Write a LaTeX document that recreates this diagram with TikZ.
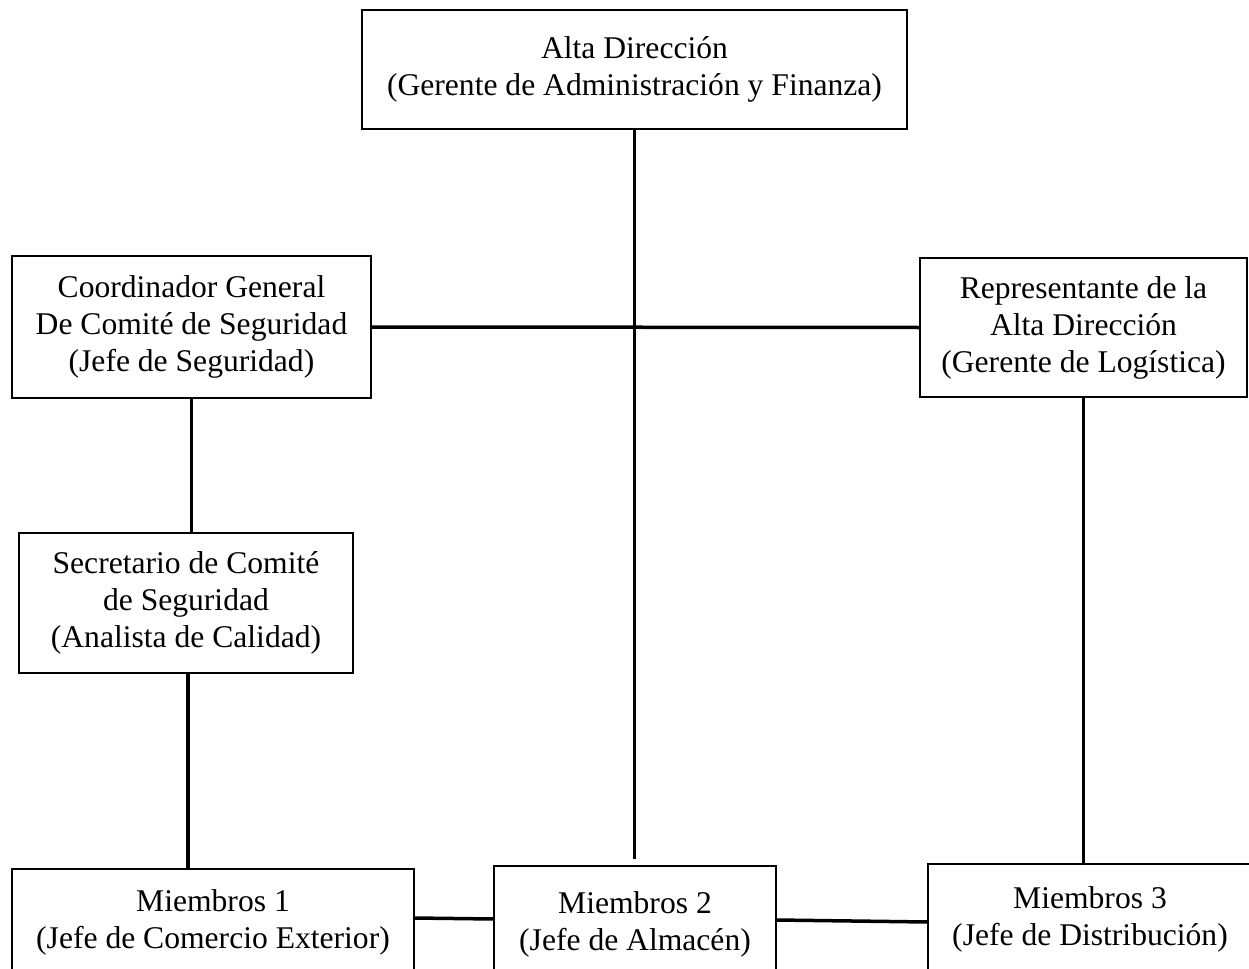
\documentclass[tikz,border=0pt]{standalone}
\usepackage{fontspec}
\setmainfont{Liberation Serif}
\begin{document}
\begin{tikzpicture}[x=0.5pt,y=-0.5pt,
  box/.style={draw, line width=1.25pt, align=center, inner sep=0pt, outer sep=0pt,
    font=\fontsize{15.8}{18.5}\selectfont},
  link/.style={line width=1.75pt}]
\useasboundingbox (0,0) rectangle (1249,969);
\fill[white] (0,0) rectangle (1249,969);
\clip (0,0) rectangle (1249,969);

\node[box, minimum width=272.5pt, minimum height=59.5pt] (A) at (634.5,69.5)
  {Alta Dirección\\(Gerente de Administración y Finanza)};
\node[box, minimum width=179.5pt, minimum height=71pt] (C) at (191.5,327)
  {Coordinador General\\De Comité de Seguridad\\(Jefe de Seguridad)};
\node[box, minimum width=163.5pt, minimum height=69.5pt] (R) at (1083.5,327.5)
  {Representante de la\\Alta Dirección\\(Gerente de Logística)};
\node[box, minimum width=167pt, minimum height=70pt] (S) at (186,603)
  {Secretario de Comité\\de Seguridad\\(Analista de Calidad)};
\node[box, minimum width=201pt, minimum height=53pt] (M1) at (213,922)
  {Miembros 1\\(Jefe de Comercio Exterior)};
\node[box, minimum width=141pt, minimum height=58pt] (M2) at (635,924)
  {Miembros 2\\(Jefe de Almacén)};
\node[box, minimum width=162pt, minimum height=55pt] (M3) at (1090,919)
  {Miembros 3\\(Jefe de Distribución)};

\coordinate (midend) at (634.5,859);

\draw[link] (A.south) -- (midend);
\draw[link] (C.east) -- (R.west);
\draw[link] (C.south) -- (C.south |- S.north);
\draw[link] ([xshift=1pt]S.south) -- ([xshift=1pt]S.south |- M1.north);
\draw[link] (R.south) -- (R.south |- M3.north);
\draw[link] ([yshift=2pt]M1.east) -- ([yshift=2.5pt]M2.west);
\draw[link] ([yshift=2pt]M2.east) -- ([yshift=-1.5pt]M3.west);
\end{tikzpicture}
\end{document}
